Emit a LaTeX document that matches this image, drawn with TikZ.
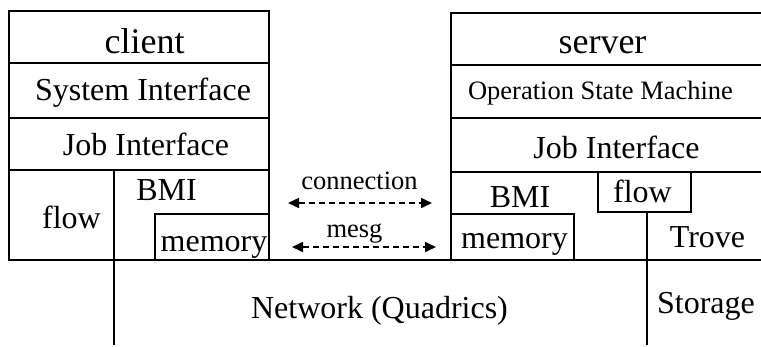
\documentclass[tikz,border=0pt]{standalone}
\usepackage{fontspec}
\setmainfont{Liberation Serif}
\usetikzlibrary{arrows.meta}
\begin{document}
\begin{tikzpicture}[x=1pt,y=-1pt,
  frame/.style={line width=1.6pt},
  lbl/.style={anchor=base,inner sep=0pt,font=\fontsize{32}{38}\selectfont},
  title/.style={anchor=base,inner sep=0pt,font=\fontsize{36}{42}\selectfont},
  small/.style={anchor=base,inner sep=0pt,font=\fontsize{26.5}{32}\selectfont},
  link/.style={line width=1.6pt,dash pattern=on 6pt off 4pt,{Triangle[length=11pt,width=10pt]}-{Triangle[length=11pt,width=10pt]}}]
\useasboundingbox (0,0) rectangle (761,346);
% client stack
\draw[frame] (9,11) rectangle (269,260);
\draw[frame] (9,63) -- (269,63) (9,118) -- (269,118) (9,170) -- (269,170);
\draw[frame] (114,170) -- (114,345);
\draw[frame] (155,260) |- (269,214);
% baseline
\draw[frame] (9,260) -- (761,260);
% server stack
\draw[frame] (761,13) -- (451,13) -- (451,260);
\draw[frame] (451,65) -- (761,65) (451,118) -- (761,118) (451,172) -- (761,172);
\draw[frame] (451,214) -| (574,260);
\draw[frame] (598,172) rectangle (691,212);
\draw[frame] (647,212) -- (647,345);
% texts
\node[title] (client) at (144.5,53) {client};
\node[lbl] (csys) at (143,100) {System Interface};
\node[lbl] (cjob) at (146,155) {Job Interface};
\node[lbl] (cbmi) at (166.5,200) {BMI};
\node[lbl] (cflow) at (71.5,228) {flow};
\node[lbl] (cmem) at (214,251) {memory};
\node[title] (server) at (602.5,53) {server};
\node[small] (sosm) at (600.5,99) {Operation State Machine};
\node[lbl] (sjob) at (616.5,158) {Job Interface};
\node[lbl] (sbmi) at (520,207) {BMI};
\node[lbl] (sflow) at (642.5,202) {flow};
\node[lbl] (smem) at (514.5,248) {memory};
\node[lbl] (trove) at (707.5,247) {Trove};
\node[lbl] (storage) at (706,313) {Storage};
\node[lbl] (net) at (379.5,318) {Network (Quadrics)};
\node[small] (conn) at (359.5,189) {connection};
\node[small] (mesg) at (354.5,237) {mesg};
% links
\coordinate (c1) at (288,203);
\coordinate (c2) at (432,203);
\coordinate (m1) at (292,247);
\coordinate (m2) at (436,247);
\draw[link] (c1) -- (c2);
\draw[link] (m1) -- (m2);
\end{tikzpicture}
\end{document}
